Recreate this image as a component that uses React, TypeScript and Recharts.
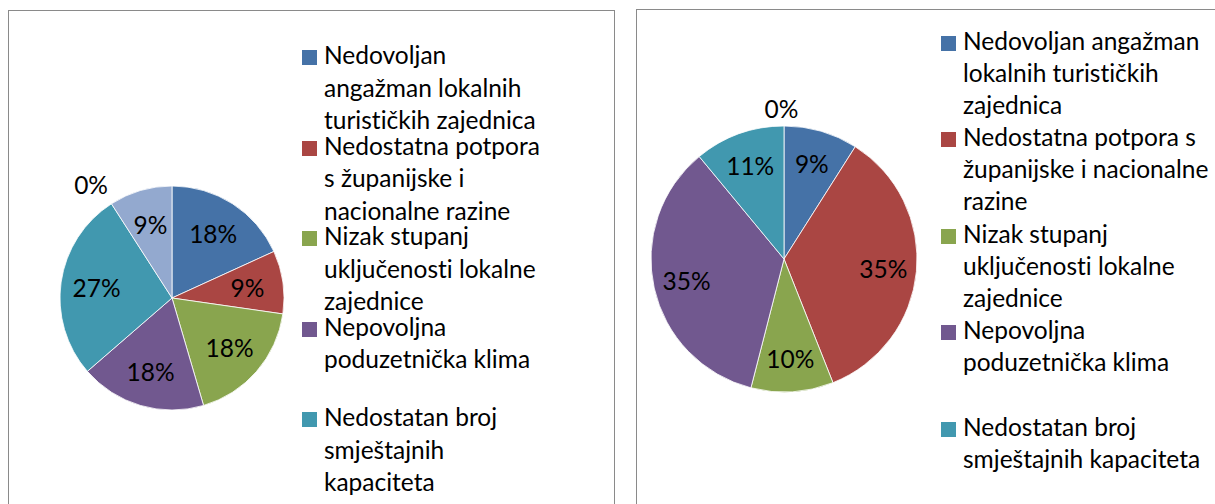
import React from "react";
import { PieChart, Pie, Cell, Legend } from "recharts";

// ---------- data ----------
const CATEGORIES = [
  "Nedovoljan angažman lokalnih turističkih zajednica",
  "Nedostatna potpora s županijske i nacionalne razine",
  "Nizak stupanj uključenosti lokalne zajednice",
  "Nepovoljna poduzetnička klima",
  "Nedostatan broj smještajnih kapaciteta",
  "Kategorija 6",
  "Kategorija 7",
];

const LEFT_VALUES = [2, 1, 2, 2, 3, 1, 0];
const RIGHT_VALUES = [9, 35, 10, 35, 11, 0];

const LEFT_COLORS = ["#4572A7", "#AA4643", "#89A54E", "#71588F", "#4198AF", "#93A9CF", "#D19392"];
const RIGHT_COLORS = ["#4572A7", "#AA4643", "#89A54E", "#71588F", "#4198AF", "#DB843D"];

const LEGEND_COUNT = 5;

const FONT = "Lato, 'Open Sans', sans-serif";
const RAD = Math.PI / 180;

type ChartCfg = {
  values: number[];
  colors: string[];
  boxLeft: number;
  boxTop: number;
  boxWidth: number;
  cx: number;
  cy: number;
  r: number;
  labelFrac: number;
  zeroAngleShift: number;
  zeroOffset: number;
  legendLeft: number;
  legendTop: number;
  legendStep: number;
  lineHeight: number;
  textWidth: number;
};

function buildData(values: number[]) {
  return values.map((v, i) => ({ name: CATEGORIES[i], value: v }));
}

function LegendBox({ cfg }: { cfg: ChartCfg }) {
  const items = CATEGORIES.slice(0, LEGEND_COUNT);
  return (
    <div style={{ position: "relative", width: cfg.textWidth + 40, height: 480 }}>
      {items.map((name, i) => (
        <div
          key={name}
          style={{
            position: "absolute",
            left: 0,
            top: i * cfg.legendStep,
            width: cfg.textWidth + 40,
          }}
        >
          <div
            style={{
              position: "absolute",
              left: 0,
              top: 11,
              width: 15,
              height: 15,
              background: cfg.colors[i],
            }}
          />
          <div
            style={{
              position: "absolute",
              left: 22,
              top: 0,
              width: cfg.textWidth,
              fontFamily: FONT,
              fontSize: 24.5,
              lineHeight: cfg.lineHeight + "px",
              color: "#000",
              textAlign: "left",
              fontVariantLigatures: "none",
            }}
          >
            {name}
          </div>
        </div>
      ))}
    </div>
  );
}

function ChartBox({ cfg }: { cfg: ChartCfg }) {
  const data = buildData(cfg.values);
  const total = cfg.values.reduce((a, b) => a + b, 0);
  const renderLabel = (p: any) => {
    const { cx, cy, midAngle, outerRadius, index } = p;
    const v = cfg.values[index];
    let ang = midAngle;
    let dist = outerRadius * cfg.labelFrac;
    if (v === 0) {
      ang = midAngle + cfg.zeroAngleShift;
      dist = outerRadius + cfg.zeroOffset;
    }
    const x = cx + dist * Math.cos(-ang * RAD);
    const y = cy + dist * Math.sin(-ang * RAD);
    const pct = Math.round((v / total) * 100);
    return (
      <text
        key={"l" + index}
        x={x}
        y={y}
        textAnchor="middle"
        dominantBaseline="central"
        fontFamily={FONT}
        fontSize={24.5}
        fill="#000"
      >
        {pct + "%"}
      </text>
    );
  };
  return (
    <div
      style={{
        position: "absolute",
        left: cfg.boxLeft,
        top: cfg.boxTop,
        width: cfg.boxWidth,
        height: 520,
        border: "1px solid #8a8a8a",
        boxSizing: "border-box",
        background: "#fff",
      }}
    >
      <PieChart width={cfg.boxWidth - 2} height={518} margin={{ top: 0, right: 0, bottom: 0, left: 0 }}>
        <Pie
          data={data}
          dataKey="value"
          nameKey="name"
          cx={cfg.cx}
          cy={cfg.cy}
          outerRadius={cfg.r}
          startAngle={90}
          endAngle={-270}
          stroke="#ffffff"
          strokeWidth={0.8}
          label={renderLabel}
          labelLine={false}
          isAnimationActive={false}
        >
          {data.map((d, i) => (
            <Cell key={d.name} fill={cfg.colors[i]} />
          ))}
        </Pie>
        <Legend
          layout="vertical"
          align="right"
          verticalAlign="middle"
          wrapperStyle={{ position: "absolute", left: cfg.legendLeft, top: cfg.legendTop, width: cfg.textWidth + 40 }}
          content={() => <LegendBox cfg={cfg} />}
        />
      </PieChart>
    </div>
  );
}

const LEFT_CFG: ChartCfg = {
  values: LEFT_VALUES,
  colors: LEFT_COLORS,
  boxLeft: 8,
  boxTop: 10,
  boxWidth: 607,
  cx: 163,
  cy: 287,
  r: 112,
  labelFrac: 0.68,
  zeroAngleShift: 35.6,
  zeroOffset: 27,
  legendLeft: 293,
  legendTop: 28,
  legendStep: 90.5,
  lineHeight: 32.5,
  textWidth: 222,
};

const RIGHT_CFG: ChartCfg = {
  values: RIGHT_VALUES,
  colors: RIGHT_COLORS,
  boxLeft: 636,
  boxTop: 9,
  boxWidth: 600,
  cx: 147,
  cy: 249,
  r: 133,
  labelFrac: 0.75,
  zeroAngleShift: 1,
  zeroOffset: 18,
  legendLeft: 304,
  legendTop: 14.5,
  legendStep: 96.5,
  lineHeight: 32,
  textWidth: 255,
};

export default function App() {
  return (
    <div
      style={{
        position: "absolute",
        left: 0,
        top: 0,
        width: 1215,
        height: 504,
        overflow: "hidden",
        background: "#fff",
      }}
    >
      <ChartBox cfg={LEFT_CFG} />
      <ChartBox cfg={RIGHT_CFG} />
    </div>
  );
}
